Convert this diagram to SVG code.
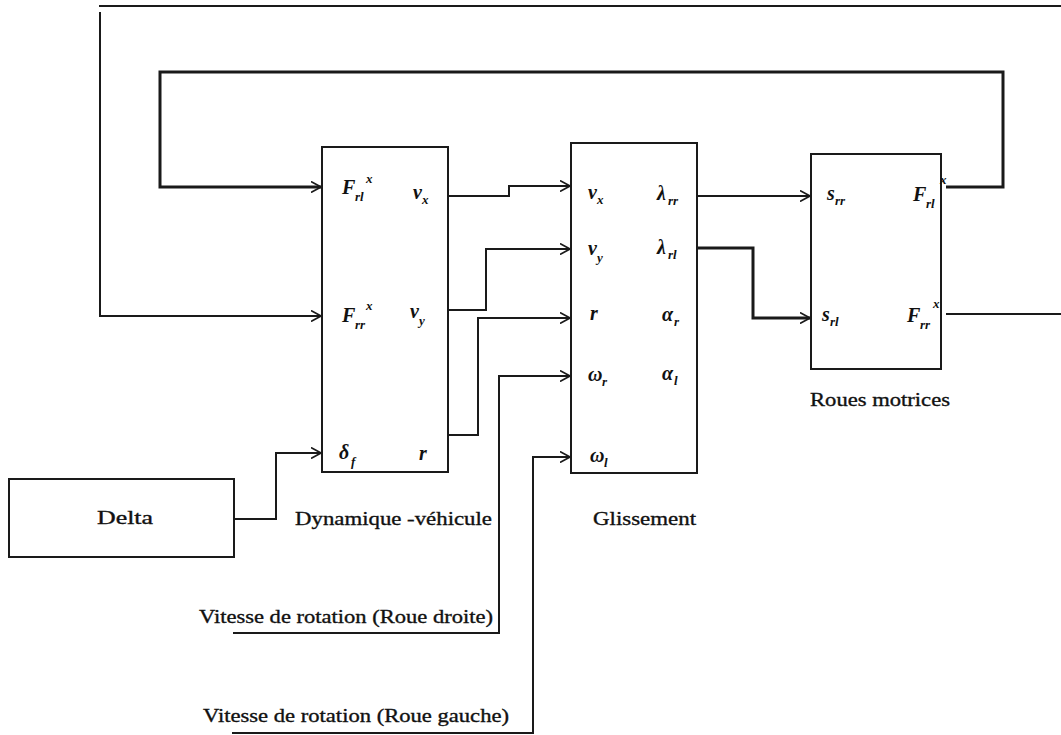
<svg xmlns="http://www.w3.org/2000/svg" width="1061" height="735" viewBox="0 0 1061 735">
<defs>
<marker id="arr" viewBox="0 0 10 12" refX="10" refY="6" markerWidth="10" markerHeight="12" markerUnits="userSpaceOnUse" orient="auto">
<path d="M0,0.5 L10,6 L0,11.5" fill="none" stroke="#1a1a1a" stroke-width="1.6"/>
</marker>
</defs>
<style>
.box{fill:#fff;stroke:#1a1a1a;stroke-width:2}
.ln{fill:none;stroke:#1a1a1a;stroke-width:2}
.thick{stroke-width:3}
.lbl{font-family:"Liberation Serif",serif;font-size:19px;fill:#111;stroke:#111;stroke-width:0.35}
.m{font-family:"Liberation Serif",serif;font-style:italic;font-weight:bold;font-size:20px;fill:#111}
.s{font-family:"Liberation Serif",serif;font-style:italic;font-weight:bold;font-size:13px;fill:#111}
.sp{font-family:"Liberation Serif",serif;font-style:italic;font-weight:bold;font-size:13px;fill:#111}
</style>
<rect width="1061" height="735" fill="#fff"/>
<g id="connectors">
<path class="ln" d="M1061,6 H99"/>
<path class="ln" d="M100,12 V316 H321" marker-end="url(#arr)"/>
<path class="ln thick" d="M946,187 H1003 V72 H160 V187 H321" marker-end="url(#arr)"/>
<path class="ln" d="M448,196 H509 V186 H570" marker-end="url(#arr)"/>
<path class="ln" d="M448,310 H486 V249 H570" marker-end="url(#arr)"/>
<path class="ln" d="M448,435 H478 V318 H570" marker-end="url(#arr)"/>
<path class="ln" d="M233,519 H276 V453 H321" marker-end="url(#arr)"/>
<path class="ln" d="M233,633 H499 V376 H570" marker-end="url(#arr)"/>
<path class="ln" d="M232,733 H533 V457 H570" marker-end="url(#arr)"/>
<path class="ln" d="M697,196 H810" marker-end="url(#arr)"/>
<path class="ln thick" d="M697,248 H753 V318 H810" marker-end="url(#arr)"/>
<path class="ln" d="M946,314 H1061"/>
</g>
<g id="dynamique">
<rect class="box" x="322" y="147" width="126" height="325"/>
<text class="m" x="342" y="194">F</text><text class="s" x="355" y="201">rl</text><text class="sp" x="366" y="183">x</text>
<text class="m" x="413" y="199">v</text><text class="s" x="422" y="204">x</text>
<text class="m" x="342" y="322">F</text><text class="s" x="355" y="329">rr</text><text class="sp" x="366" y="310">x</text>
<text class="m" x="410" y="318">v</text><text class="s" x="419" y="325">y</text>
<text class="m" x="339" y="459">δ</text><text class="s" x="351" y="466">f</text>
<text class="m" x="419" y="460">r</text>
<text class="lbl" x="295" y="525" textLength="197" lengthAdjust="spacingAndGlyphs">Dynamique -véhicule</text>
</g>
<g id="glissement">
<rect class="box" x="571" y="143" width="126" height="330"/>
<text class="m" x="588" y="199">v</text><text class="s" x="597" y="204">x</text>
<text class="m" x="657" y="200">λ</text><text class="s" x="668" y="205">rr</text>
<text class="m" x="588" y="255">v</text><text class="s" x="597" y="262">y</text>
<text class="m" x="657" y="254">λ</text><text class="s" x="668" y="259">rl</text>
<text class="m" x="590" y="320">r</text>
<text class="m" x="662" y="321">α</text><text class="s" x="674" y="326">r</text>
<text class="m" x="588" y="381">ω</text><text class="s" x="602" y="386">r</text>
<text class="m" x="662" y="380">α</text><text class="s" x="674" y="385">l</text>
<text class="m" x="590" y="462">ω</text><text class="s" x="604" y="467">l</text>
<text class="lbl" x="593" y="525" textLength="103" lengthAdjust="spacingAndGlyphs">Glissement</text>
</g>
<g id="roues">
<rect class="box" x="811" y="154" width="130" height="215"/>
<text class="m" x="827" y="200">s</text><text class="s" x="835" y="205">rr</text>
<text class="m" x="913" y="201">F</text><text class="s" x="926" y="208">rl</text><text class="sp" x="940" y="184">x</text>
<text class="m" x="822" y="321">s</text><text class="s" x="830" y="326">rl</text>
<text class="m" x="907" y="322">F</text><text class="s" x="920" y="329">rr</text><text class="sp" x="933" y="308">x</text>
<text class="lbl" x="810" y="406" textLength="140" lengthAdjust="spacingAndGlyphs">Roues motrices</text>
</g>
<g id="delta">
<rect class="box" x="9" y="479" width="225" height="78"/>
<text class="lbl" x="97" y="524" textLength="56" lengthAdjust="spacingAndGlyphs">Delta</text>
</g>
<g id="vitesse-droite">
<text class="lbl" x="199" y="623" textLength="294" lengthAdjust="spacingAndGlyphs">Vitesse de rotation (Roue droite)</text>
</g>
<g id="vitesse-gauche">
<text class="lbl" x="203" y="722" textLength="306" lengthAdjust="spacingAndGlyphs">Vitesse de rotation (Roue gauche)</text>
</g>
</svg>
